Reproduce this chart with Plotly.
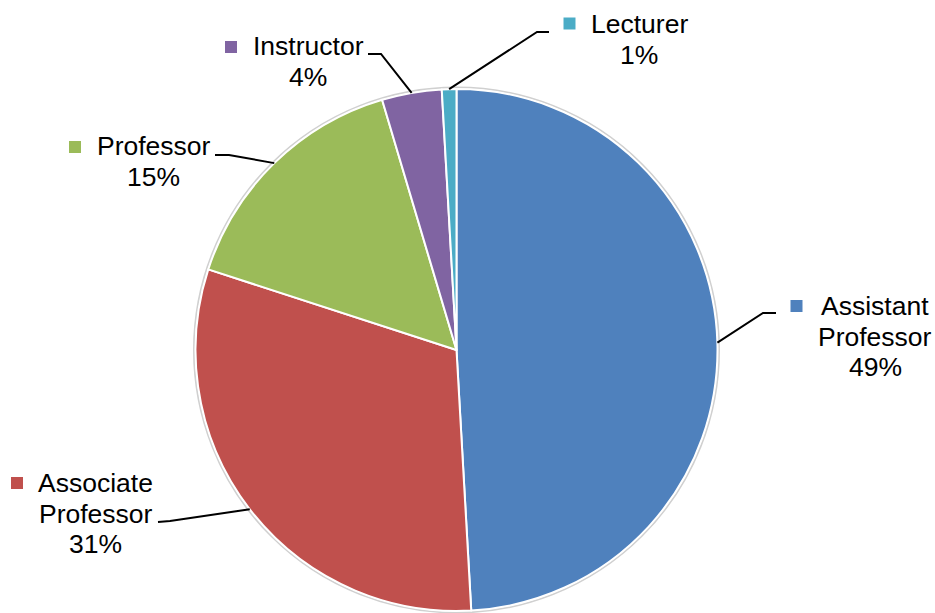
import math
import plotly.graph_objects as go

# ---- data ----
categories = ["Assistant Professor", "Associate Professor", "Professor", "Instructor", "Lecturer"]
values = [49.1, 30.9, 15.4, 3.7, 0.9]
colors = ["#4F81BD", "#C0504D", "#9BBB59", "#8064A2", "#4BACC6"]

# ---- layout constants (pixels) ----
W, H = 935, 613
CX, CY, R = 456.5, 350.0, 261.0
FS = 26.5
LINE_GAP = 30.5
# label block: text centre x, first baseline y
label_pos = [(875, 315), (95.5, 492), (153.5, 155), (308, 55), (639, 33)]
# legend-key square centres
key_pos = [(796.5, 306), (17, 483), (75, 147), (231, 47), (569.5, 23.5)]
KEY = 12
# leader line elbow and end points
leader_elbow = [(763, 313), (170, 521), (229, 155), (381, 54), (537, 32)]
leader_end = [(776, 313), (158, 522), (215, 155), (368, 54), (549, 32)]


def px(x):
    return x / W


def py(y):
    return 1 - y / H


fig = go.Figure(
    go.Pie(
        labels=categories,
        values=values,
        sort=False,
        direction="clockwise",
        rotation=0,
        marker=dict(colors=colors, line=dict(color="white", width=2)),
        textinfo="none",
        hoverinfo="label+percent",
        domain=dict(x=[px(CX - R), px(CX + R)], y=[py(CY + R), py(CY - R)]),
        showlegend=False,
    )
)

total = sum(values)
shapes = []
annotations = []

# faint outline round the pie
shapes.append(dict(type="circle", xref="paper", yref="paper", layer="below",
                   x0=px(CX - R - 1.5), x1=px(CX + R + 1.5),
                   y0=py(CY + R + 1.5), y1=py(CY - R - 1.5),
                   line=dict(color="#d0d0d0", width=2)))

cum = 0.0
for i, (name, v) in enumerate(zip(categories, values)):
    mid = (cum + v / 2) / total * 2 * math.pi
    cum += v
    sx = CX + R * math.sin(mid)
    sy = CY - R * math.cos(mid)
    ex, ey = leader_elbow[i]
    fx, fy = leader_end[i]
    shapes.append(dict(type="path", xref="paper", yref="paper",
                       path=f"M {px(sx)},{py(sy)} L {px(ex)},{py(ey)} L {px(fx)},{py(fy)}",
                       line=dict(color="black", width=2)))
    kx, ky = key_pos[i]
    shapes.append(dict(type="rect", xref="paper", yref="paper",
                       x0=px(kx - KEY / 2), x1=px(kx + KEY / 2),
                       y0=py(ky + KEY / 2), y1=py(ky - KEY / 2),
                       fillcolor=colors[i], line=dict(width=0)))
    pct = f"{round(v / total * 100)}%"
    lines = name.split(" ") + [pct]
    lx, ly = label_pos[i]
    for j, t in enumerate(lines):
        base = ly + j * LINE_GAP
        annotations.append(dict(text=t, xref="paper", yref="paper",
                                x=px(lx), y=py(base - 0.33 * FS),
                                xanchor="center", yanchor="middle",
                                showarrow=False,
                                font=dict(family="Liberation Sans, Arial, sans-serif",
                                          size=FS, color="black")))

fig.update_layout(
    width=W, height=H,
    margin=dict(l=0, r=0, t=0, b=0),
    paper_bgcolor="white",
    plot_bgcolor="white",
    showlegend=False,
    shapes=shapes,
    annotations=annotations,
)

fig.write_html("out.html", config={"displayModeBar": False},
               post_script="document.body.style.margin='0';document.body.style.overflow='hidden';")
